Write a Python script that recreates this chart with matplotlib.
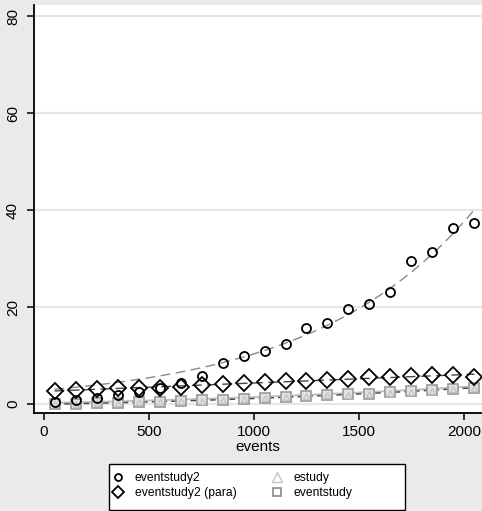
import numpy as np
import matplotlib
matplotlib.use('Agg')
import matplotlib.pyplot as plt
from matplotlib.lines import Line2D
from matplotlib.patches import Rectangle

plt.rcParams['font.family'] = ['Liberation Sans', 'DejaVu Sans']

events = [50, 150, 250, 350, 450, 550, 650, 750, 850, 950, 1050,
          1150, 1250, 1350, 1450, 1550, 1650, 1750, 1850, 1950, 2050]
eventstudy2 = [0.35, 0.75, 1.2, 1.9, 2.5, 3.4, 4.4, 5.8, 8.45, 10.0, 10.9,
               12.3, 15.6, 16.8, 19.6, 20.6, 23.0, 29.4, 31.3, 36.2, 37.3]
eventstudy2_para = [2.7, 2.8, 3.0, 3.2, 3.3, 3.4, 3.6, 3.9, 4.2, 4.3, 4.6,
                    4.7, 4.8, 4.9, 5.1, 5.5, 5.6, 5.7, 5.9, 6.0, 5.6]
estudy = [-0.1, 0.0, 0.1, 0.2, 0.35, 0.45, 0.55, 0.7, 0.85, 0.95, 1.15,
          1.35, 1.55, 1.75, 1.95, 2.05, 2.35, 2.55, 2.75, 3.05, 3.35]
eventstudy = [0.0, 0.0, 0.1, 0.3, 0.4, 0.5, 0.6, 0.75, 0.9, 1.0, 1.2,
              1.4, 1.6, 1.8, 2.0, 2.1, 2.4, 2.6, 2.8, 3.1, 3.4]

x = np.array(events, dtype=float)
bg = '#eaeaea'
W, H = 482, 511

fig = plt.figure(figsize=(4.82, 5.11), dpi=100, facecolor=bg)
ax = fig.add_axes([34/W, 98/H, 448/W, 408/H])
ax.set_facecolor('white')

xs = np.linspace(50, 2050, 200)

# exponential fit through eventstudy2
y2 = np.array(eventstudy2)
b, a = np.polyfit(x, np.log(y2), 1, w=y2)
ax.plot(xs, np.exp(a + b * xs), color='#8a8a8a', lw=1, dashes=(7, 4), zorder=2)

# fits through the other series
p = np.polyfit(x, eventstudy2_para, 1)
ax.plot(x, np.polyval(p, x), color='#444444', lw=1, dashes=(7, 4), zorder=2)
p = np.polyfit(x, estudy, 2)
ax.plot(x, np.polyval(p, x) + 0.35, color='#bdbdbd', lw=1.3, zorder=2)
p = np.polyfit(x, eventstudy, 2)
ax.plot(x, np.polyval(p, x), color='#444444', lw=1, dashes=(4, 3), zorder=2)

ax.plot(x, eventstudy, 's', ms=7, mfc='#e2e2e2', mec='#a0a0a0', mew=1.3,
        ls='none', zorder=3)
ax.plot(x, estudy, '^', ms=5, mfc='none', mec='#c4c4c4', mew=1.0,
        ls='none', zorder=4)
ax.plot(x, eventstudy2_para, 'D', ms=8, mfc='none', mec='black', mew=1.3,
        ls='none', zorder=5)
ax.plot(x, eventstudy2, 'o', ms=6.5, mfc='none', mec='black', mew=1.3,
        ls='none', zorder=6)

ax.set_xlim(-48, 2086)
ax.set_ylim(-1.86, 82.3)
ax.set_xticks([0, 500, 1000, 1500, 2000])
ax.set_yticks([0, 20, 40, 60, 80])
ax.grid(axis='y', color='#e6e6e6', lw=1.5)
ax.set_axisbelow(True)
for s in ['top', 'right']:
    ax.spines[s].set_visible(False)
for s in ['left', 'bottom']:
    ax.spines[s].set_linewidth(1.3)
ax.tick_params(length=5, width=1.1, labelsize=11)
ax.tick_params(axis='y', pad=5)
for lbl in ax.get_yticklabels():
    lbl.set_rotation(90)
    lbl.set_va('center')
ax.set_xlabel('events', fontsize=11, labelpad=1)

# legend box
fig.patches.append(Rectangle((109/W, 1/H), 296/W, 46/H, transform=fig.transFigure,
                             facecolor='white', edgecolor='black', lw=1.0, zorder=1))

# legend: markers only
handles = [
    Line2D([], [], marker='o', ms=5, mfc='none', mec='black', mew=1.3, ls='none'),
    Line2D([], [], marker='D', ms=6.5, mfc='none', mec='black', mew=1.3, ls='none'),
    Line2D([], [], marker='^', ms=7, mfc='none', mec='#c4c4c4', mew=1.0, ls='none'),
    Line2D([], [], marker='s', ms=6, mfc='none', mec='#8a8a8a', mew=1.2, ls='none'),
]
labels = ['eventstudy2', 'eventstudy2 (para)', 'estudy', 'eventstudy']
leg = fig.legend(handles, labels, ncol=2, loc='upper left',
                 bbox_to_anchor=(112/W, (H - 472)/H),
                 fontsize=8.7, frameon=False, borderpad=0, borderaxespad=0,
                 handletextpad=0.9, labelspacing=0.25, columnspacing=2.8,
                 handlelength=1.0)
leg.set_zorder(3)

fig.savefig('out.png', dpi=100, facecolor=bg)
